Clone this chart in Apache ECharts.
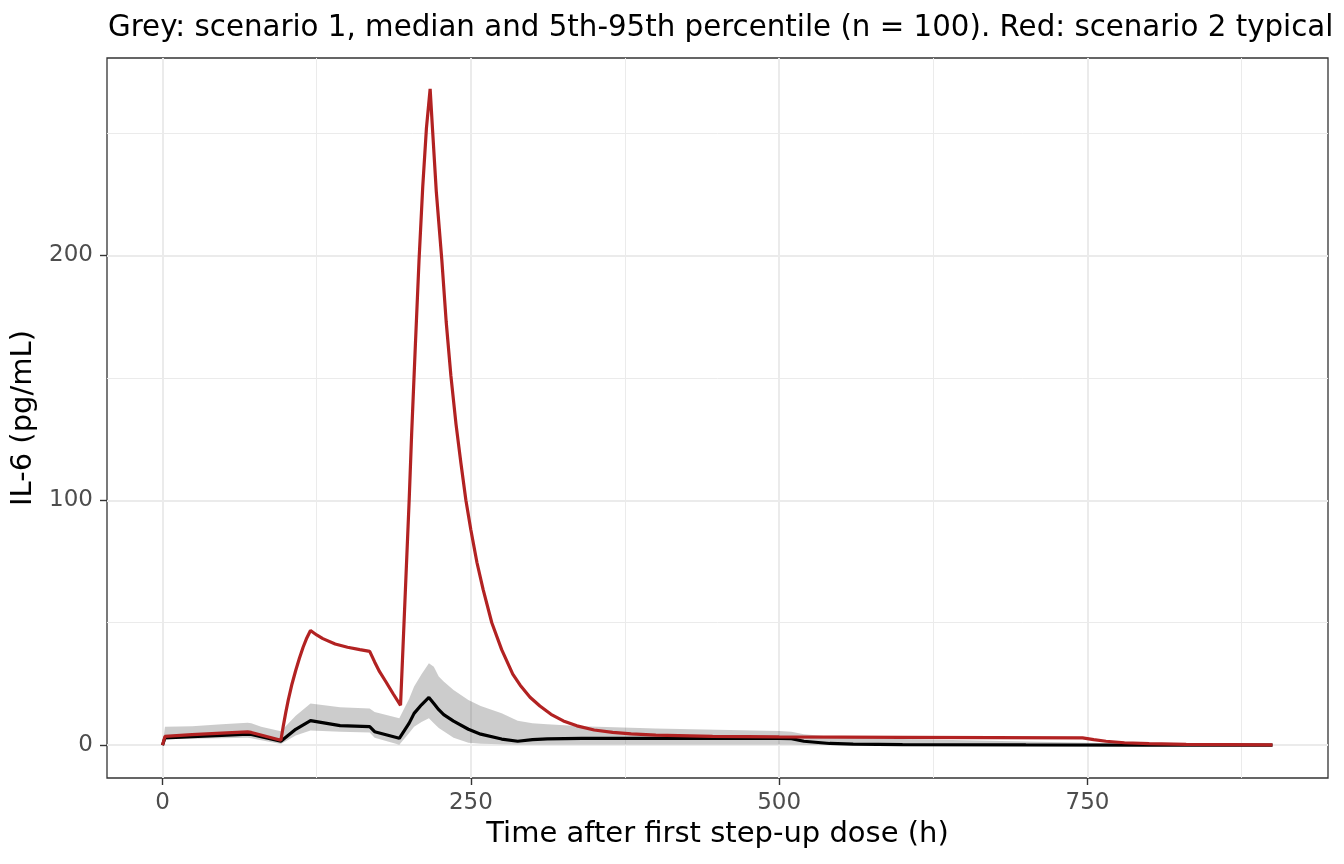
<!DOCTYPE html>
<html>
<head>
<meta charset="utf-8">
<script src="https://cdn.jsdelivr.net/npm/echarts@6/dist/echarts.min.js"></script>
<style>
  html, body { margin: 0; padding: 0; background: #fff; }
  #chart { width: 1344px; height: 864px; }
</style>
</head>
<body>
<div id="chart"></div>
<script>
// scenario 2, typical individual (red)
const redTime = [0, 2, 24, 48, 69, 72, 96, 98, 100, 102, 105, 108, 111, 114, 117, 120, 125, 130, 140, 150, 160, 168,
  172, 176, 181, 187, 193, 195, 197, 200, 202, 205, 208, 211, 214, 217, 219, 222, 226.5, 230, 233.8, 238, 242, 246,
  250, 255, 260, 267, 275, 284, 290, 298, 306, 315, 325, 336, 350, 365, 380, 400, 446, 500, 600, 746,
  755, 765, 780, 800, 830, 900];
const redValue = [0, 3.6, 4.3, 4.9, 5.4, 5.2, 2, 8, 13.5, 18.5, 25, 30.5, 35.5, 40, 43.8, 46.8, 45, 43.5, 41.3, 40, 39, 38.3,
  34, 30, 26, 21, 16.3, 40, 64, 100, 127, 163, 198, 228, 252, 268, 251, 226, 198, 173, 151, 131, 115, 100,
  88, 74.5, 63.5, 50, 39, 29, 24.5, 19.6, 16, 12.6, 9.9, 7.9, 6.2, 5.2, 4.6, 4.1, 3.6, 3.4, 3.2, 3.0,
  2.3, 1.6, 1.0, 0.6, 0.3, 0.1];

// scenario 1, n = 100 (grey band + black median)
const greyTime = [0, 2, 24, 48, 69, 72, 80, 96, 108, 120, 144, 168, 172, 192, 200, 204, 210, 216, 220, 224,
  228, 236, 248, 258, 275, 288, 300, 312, 340, 400, 500, 510, 520, 541, 560, 600, 700, 800, 900];
const median = [0, 3, 3.5, 4, 4.5, 4.4, 3.5, 1.6, 6.5, 10, 8, 7.6, 5.5, 2.8, 9, 13, 16.5, 19.5, 17, 14.5,
  12.5, 9.8, 6.5, 4.5, 2.5, 1.6, 2.3, 2.6, 2.8, 2.8, 2.8, 2.7, 1.6, 0.7, 0.4, 0.2, 0.1, 0.05, 0];
const lower = [0, 2.5, 2.6, 2.8, 3, 2.8, 2, 0.5, 4, 6, 5.5, 5.2, 3, 0.2, 5, 7.5, 9.5, 11, 9, 7,
  5.7, 3, 1, 0.6, 0.4, 0.3, 0.3, 0.3, 0.3, 0.3, 0.3, 0.3, 0.2, 0.1, 0.1, 0, 0, 0, 0];
const upper = [0, 7.5, 7.7, 8.5, 9.2, 9, 7.5, 5.7, 12, 17, 15.5, 15, 13.5, 11, 19, 24, 29, 33.5, 32, 28,
  26, 22.5, 18.5, 16, 13, 10, 9, 8.5, 7.7, 6.8, 5.8, 5.5, 4.5, 3.5, 3, 2.5, 1.5, 0.5, 0.2];

const xTicks = [0, 250, 500, 750];
const xMinor = [125, 375, 625, 875];
const yTicks = [0, 100, 200];
const yMinor = [50, 150, 250];

const pairs = (xs, ys) => xs.map((x, i) => [x, ys[i]]);

const font = 'DejaVu Sans';
const chart = echarts.init(document.getElementById('chart'));

const majorX = {
  type: 'value', min: -45, max: 945,
  axisLine: { show: false, onZero: false },
  axisTick: { show: true, customValues: xTicks, length: 7, lineStyle: { color: '#333333', width: 1.4 } },
  axisLabel: { customValues: xTicks, color: '#4D4D4D', fontSize: 23, fontFamily: font, margin: 14 },
  splitLine: { show: true, lineStyle: { color: '#EBEBEB', width: 2 } },
  name: 'Time after first step-up dose (h)',
  nameLocation: 'middle', nameGap: 42,
  nameTextStyle: { color: '#000', fontSize: 29, fontFamily: font }
};
const minorX = {
  type: 'value', min: -45, max: 945, position: 'bottom',
  axisLine: { show: false, onZero: false },
  axisTick: { show: false, customValues: xMinor },
  axisLabel: { show: false, customValues: xMinor },
  splitLine: { show: true, lineStyle: { color: '#EBEBEB', width: 1 } }
};
const majorY = {
  type: 'value', min: -13.4, max: 280.6,
  axisLine: { show: false, onZero: false },
  axisTick: { show: true, customValues: yTicks, length: 7, lineStyle: { color: '#333333', width: 1.4 } },
  axisLabel: { customValues: yTicks, color: '#4D4D4D', fontSize: 23, fontFamily: font, margin: 14 },
  splitLine: { show: true, lineStyle: { color: '#EBEBEB', width: 2 } },
  name: 'IL-6 (pg/mL)',
  nameLocation: 'middle', nameGap: 62,
  nameTextStyle: { color: '#000', fontSize: 29, fontFamily: font }
};
const minorY = {
  type: 'value', min: -13.4, max: 280.6, position: 'left',
  axisLine: { show: false, onZero: false },
  axisTick: { show: false, customValues: yMinor },
  axisLabel: { show: false, customValues: yMinor },
  splitLine: { show: true, lineStyle: { color: '#EBEBEB', width: 1 } }
};

const option = {
  animation: false,
  backgroundColor: '#fff',
  title: {
    text: 'Grey: scenario 1, median and 5th-95th percentile (n = 100). Red: scenario 2 typical',
    left: 103, top: 9,
    textStyle: { color: '#000', fontSize: 29.3, fontWeight: 'normal', fontFamily: font }
  },
  grid: {
    left: 107, right: 16, top: 58, bottom: 86,
    show: true, borderColor: '#333333', borderWidth: 1.3, backgroundColor: 'transparent'
  },
  xAxis: [majorX, minorX],
  yAxis: [majorY, minorY],
  series: [
    {
      // 5th-95th percentile ribbon, drawn as one polygon through the axis scales
      type: 'custom', silent: true, clip: true,
      data: [[greyTime[0], lower[0]]],
      renderItem: (params, api) => {
        const top = greyTime.map((t, i) => api.coord([t, upper[i]]));
        const bottom = greyTime.map((t, i) => api.coord([t, lower[i]])).reverse();
        return {
          type: 'polygon',
          shape: { points: top.concat(bottom) },
          style: { fill: 'rgba(0,0,0,0.2)' }
        };
      }
    },
    {
      type: 'line', symbol: 'none',
      data: pairs(greyTime, median),
      lineStyle: { color: '#000000', width: 3.2 }
    },
    {
      type: 'line', symbol: 'none',
      data: pairs(redTime, redValue),
      lineStyle: { color: '#B22222', width: 3.2 }
    }
  ]
};

chart.setOption(option);
</script>
</body>
</html>
